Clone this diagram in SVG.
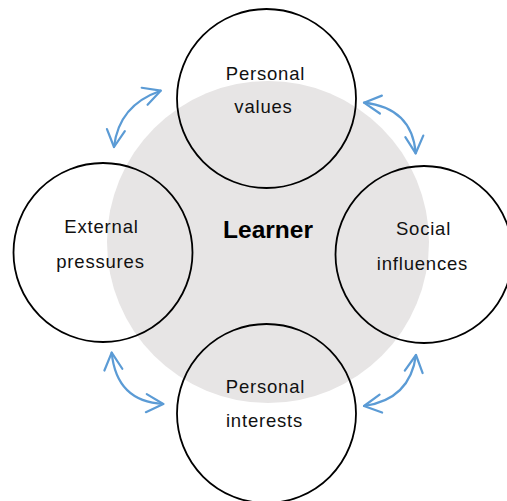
<svg xmlns="http://www.w3.org/2000/svg" width="507" height="501" viewBox="0 0 507 501">
<defs>
<style>
.node{fill:none;stroke:#000;stroke-width:1.8}
.lbl{font-family:"Liberation Sans",Arial,sans-serif;font-size:18.5px;letter-spacing:0.8px;fill:#111;text-anchor:middle}
.title{font-family:"Liberation Sans",Arial,sans-serif;font-size:24.5px;font-weight:bold;fill:#000;text-anchor:middle}
.arr{fill:none;stroke:#5b9bd5;stroke-width:2.2;stroke-linecap:round;marker-start:url(#ah);marker-end:url(#ah)}
</style>
<marker id="ah" markerUnits="userSpaceOnUse" viewBox="-20 -12 24 24" refX="0" refY="0" markerWidth="24" markerHeight="24" orient="auto-start-reverse" overflow="visible">
<path d="M-17,-9 L0,0 L-17,9" fill="none" stroke="#5b9bd5" stroke-width="2.2" stroke-linecap="round" stroke-linejoin="round"/>
</marker>
</defs>
<rect width="507" height="501" fill="#fff"/>
<g id="learner">
<circle cx="268" cy="242" r="161" fill="#e7e5e5"/>
<text class="title" x="268" y="238">Learner</text>
</g>
<g id="personal-values">
<circle class="node" cx="266.5" cy="98.5" r="89.5"/>
<text class="lbl" x="265.5" y="80">Personal</text>
<text class="lbl" x="263.5" y="113">values</text>
</g>
<g id="external-pressures">
<circle class="node" cx="103" cy="252.5" r="89.5"/>
<text class="lbl" x="101.5" y="233">External</text>
<text class="lbl" x="100.5" y="268">pressures</text>
</g>
<g id="social-influences">
<circle class="node" cx="424" cy="254.5" r="88.5"/>
<text class="lbl" x="423.5" y="235">Social</text>
<text class="lbl" x="422.5" y="270">influences</text>
</g>
<g id="personal-interests">
<circle class="node" cx="266.5" cy="413.5" r="89.5"/>
<text class="lbl" x="265.5" y="393">Personal</text>
<text class="lbl" x="264.5" y="427">interests</text>
</g>
<g id="connectors">
<path class="arr" d="M114,147 Q118.7,105.2 160.7,90.7"/>
<path class="arr" d="M364,102.7 Q412,108 415.7,153.3"/>
<path class="arr" d="M111.7,352.7 Q116.5,401.7 163.3,404"/>
<path class="arr" d="M416,355 Q410,399.5 364,406"/>
</g>
</svg>
